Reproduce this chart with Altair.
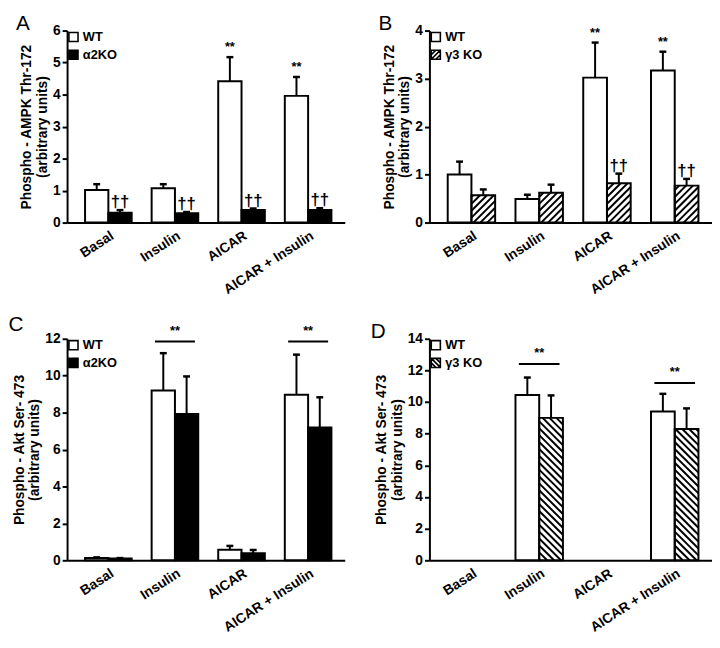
import altair as alt
import pandas as pd

CATEGORIES = ["Basal", "Insulin", "AICAR", "AICAR + Insulin"]

# Panel A  (AMPK Thr-172, WT vs alpha2KO)
A_WT = [1.02, 1.07, 4.42, 3.96]
A_WT_ERR = [0.18, 0.13, 0.75, 0.59]
A_KO = [0.31, 0.29, 0.39, 0.39]
A_KO_ERR = [0.08, 0.04, 0.05, 0.06]
A_STARS = [2, 3]
A_DAGGERS = [0, 1, 2, 3]

# Panel B  (AMPK Thr-172, WT vs gamma3 KO)
B_WT = [1.00, 0.49, 3.02, 3.17]
B_WT_ERR = [0.27, 0.09, 0.73, 0.39]
B_KO = [0.57, 0.62, 0.82, 0.77]
B_KO_ERR = [0.12, 0.17, 0.20, 0.14]
B_STARS = [2, 3]
B_DAGGERS = [2, 3]

# Panel C  (Akt Ser-473, WT vs alpha2KO)
C_WT = [0.12, 9.20, 0.57, 8.97]
C_WT_ERR = [0.04, 2.02, 0.21, 2.17]
C_KO = [0.10, 7.92, 0.38, 7.20]
C_KO_ERR = [0.02, 2.04, 0.18, 1.63]
C_SIG_CATS = [1, 3]
C_SIG_LEVELS = [11.85, 11.85]

# Panel D  (Akt Ser-473, WT vs gamma3 KO)
D_WT = [0.0, 10.45, 0.0, 9.40]
D_WT_ERR = [0.0, 1.10, 0.0, 1.12]
D_KO = [0.0, 9.00, 0.0, 8.30]
D_KO_ERR = [0.0, 1.42, 0.0, 1.30]
D_SIG_CATS = [1, 3]
D_SIG_LEVELS = [12.4, 11.2]

FONT = "Liberation Sans"
XDOM = [-0.62, 3.55]
BW = 0.35          # bar width in category units
PITCH = 7.0        # hatch pitch in px
CAP_PX = 3.5       # half width of error caps in px

label_expr = "[" + ",".join("'" + c + "'" for c in CATEGORIES) + "][datum.value]"


def panel(letter, ytitle, ymax, ystep, wt, wt_err, ko, ko_err, ko_label, ko_style,
          width, height, stars=(), daggers=(), sig_cats=(), sig_levels=()):
    n = len(CATEGORIES)
    kx = width / (XDOM[1] - XDOM[0])
    ky = height / ymax
    df = pd.DataFrame({
        "i": list(range(n)) * 2,
        "grp": ["WT"] * n + [ko_label] * n,
        "ko": [0] * n + [1] * n,
        "value": wt + ko,
        "err": wt_err + ko_err,
    })

    xscale = alt.Scale(domain=XDOM, nice=False, zero=False)
    yscale = alt.Scale(domain=[0, ymax], nice=False, zero=False)
    xaxis = alt.Axis(values=list(range(n)), labelExpr=label_expr, labelAngle=-33,
                     ticks=False, grid=False, labelFlush=False, labelOverlap=False,
                     labelBound=False, labelPadding=6, title=None)
    yaxis = alt.Axis(values=list(range(0, ymax + 1, ystep)), grid=False, tickSize=5,
                     title=ytitle, titlePadding=3, labelPadding=2)

    def X(f):
        return alt.X(f, type="quantitative", scale=xscale, axis=xaxis, title=None)

    def X2(f):
        return alt.X2(f)

    def Y(f):
        return alt.Y(f, type="quantitative", scale=yscale, axis=yaxis)

    base = alt.Chart(df).transform_calculate(
        x0=f"datum.i - {BW} + datum.ko * {BW}",
        x1=f"datum.i + datum.ko * {BW}",
        xc=f"datum.i - {BW / 2} + datum.ko * {BW}",
        top="datum.value + datum.err",
        zero="0",
        capl=f"datum.i - {BW / 2} + datum.ko * {BW} - {CAP_PX / kx}",
        capr=f"datum.i - {BW / 2} + datum.ko * {BW} + {CAP_PX / kx}",
    )

    ko_fill = "black" if ko_style == "solid" else "white"
    bars_fill = base.transform_filter("datum.value > 0").mark_rect(strokeWidth=0).encode(
        x=X("x0"), x2=X2("x1"), y=Y("value"), y2=alt.Y2("zero"),
        fill=alt.condition("datum.ko == 1", alt.value(ko_fill), alt.value("white")),
    )
    layers = [bars_fill]

    if ko_style in ("fwd", "back"):
        W = BW * kx
        if ko_style == "fwd":
            xa = f"datum.x0 + (datum.c + datum.t0) / {kx}"
            xb = f"datum.x0 + (datum.c + datum.t1) / {kx}"
        else:
            xa = f"datum.x1 - (datum.c + datum.t0) / {kx}"
            xb = f"datum.x1 - (datum.c + datum.t1) / {kx}"
        hatch = base.transform_filter("datum.ko == 1 && datum.value > 0").transform_calculate(
            H=f"datum.value * {ky}",
        ).transform_calculate(
            cs=f"sequence(-ceil(datum.H / {PITCH}) * {PITCH} + 2, {W}, {PITCH})",
        ).transform_flatten(["cs"], as_=["c"]).transform_calculate(
            t0="max(0, -datum.c)",
            t1=f"min(datum.H, {W} - datum.c)",
        ).transform_filter("datum.t1 - datum.t0 > 0.3").transform_calculate(
            hxa=xa, hxb=xb,
            hya=f"datum.t0 / {ky}", hyb=f"datum.t1 / {ky}",
        ).mark_rule(strokeWidth=2, color="black", strokeCap="butt").encode(
            x=X("hxa"), x2=X2("hxb"), y=Y("hya"), y2=alt.Y2("hyb"),
        )
        layers.append(hatch)

    err_line = base.transform_filter("datum.err > 0").mark_rule(strokeWidth=2, color="black").encode(
        x=X("xc"), y=Y("value"), y2=alt.Y2("top"),
    )
    err_cap = base.transform_filter("datum.err > 0").mark_rule(strokeWidth=2.5, color="black").encode(
        x=X("capl"), x2=X2("capr"), y=Y("top"),
    )
    outline = base.transform_filter("datum.value > 0").mark_rect(
        fillOpacity=0, stroke="black", strokeWidth=2).encode(
        x=X("x0"), x2=X2("x1"), y=Y("value"), y2=alt.Y2("zero"),
    )
    layers += [err_line, err_cap, outline]

    if stars:
        st = base.transform_filter(
            f"datum.ko == 0 && indexof({list(stars)}, datum.i) >= 0"
        ).mark_text(text="**", font=FONT, fontSize=13, fontWeight="bold", baseline="bottom",
                    dy=-3, color="black").encode(x=X("xc"), y=Y("top"))
        layers.append(st)
    if daggers:
        dg = base.transform_filter(
            f"datum.ko == 1 && indexof({list(daggers)}, datum.i) >= 0"
        ).mark_text(text="††", font=FONT, fontSize=17, fontWeight="bold", baseline="bottom",
                    dy=1, color="black").encode(x=X("xc"), y=Y("top"))
        layers.append(dg)
    if sig_cats:
        sdf = pd.DataFrame({"i": list(sig_cats), "level": list(sig_levels)})
        sbase = alt.Chart(sdf).transform_calculate(
            sl="datum.i - 0.3", sr="datum.i + 0.3")
        sline = sbase.mark_rule(strokeWidth=2, color="black").encode(
            x=X("sl"), x2=X2("sr"), y=Y("level"))
        stxt = sbase.mark_text(text="**", font=FONT, fontSize=13, fontWeight="bold",
                               baseline="bottom", dy=-4, color="black").encode(
            x=X("i"), y=Y("level"))
        layers += [sline, stxt]

    # legend (built from scales, no marks drawn)
    if ko_style == "solid":
        ko_shape = "square"
    elif ko_style == "fwd":
        ko_shape = "M-1,-1L1,-1L1,1L-1,1Z M-1,0L0,-1 M-1,1L1,-1 M0,1L1,0"
    else:
        ko_shape = "M-1,-1L1,-1L1,1L-1,1Z M-1,0L0,1 M-1,-1L1,1 M0,-1L1,0"
    leg = alt.Legend(orient="top-left", title=None, offset=0, symbolSize=85,
                     symbolStrokeColor="black", symbolStrokeWidth=1.6, symbolOpacity=1,
                     labelFont=FONT, labelFontSize=13, labelFontWeight="bold",
                     labelColor="black", rowPadding=1, padding=0, labelOffset=3)
    ldf = pd.DataFrame({"grp": ["WT", ko_label]})
    dom = ["WT", ko_label]
    legend_layer = alt.Chart(ldf).transform_filter("false").mark_point(
        filled=True, opacity=1, strokeWidth=1.6).encode(
        fill=alt.Fill("grp:N", scale=alt.Scale(domain=dom, range=["white", ko_fill]), legend=leg),
        shape=alt.Shape("grp:N", scale=alt.Scale(domain=dom, range=["square", ko_shape]), legend=leg),
        stroke=alt.Stroke("grp:N", scale=alt.Scale(domain=dom, range=["black", "black"]), legend=leg),
    )
    layers.append(legend_layer)

    return alt.layer(*layers).properties(
        width=width, height=height,
        title=alt.TitleParams(letter, anchor="start", frame="bounds", font=FONT, fontSize=21,
                              fontWeight="normal", color="black", offset=-10, dx=-4),
    )


AMPK_TITLE = ["Phospho - AMPK Thr-172", "(arbitrary units)"]
AKT_TITLE = ["Phospho - Akt Ser- 473", "(arbitrary units)"]

pA = panel("A", AMPK_TITLE, 6, 1, A_WT, A_WT_ERR, A_KO, A_KO_ERR, "α2KO", "solid", 282, 195,
           stars=A_STARS, daggers=A_DAGGERS)
pB = panel("B", AMPK_TITLE, 4, 1, B_WT, B_WT_ERR, B_KO, B_KO_ERR, "γ3 KO", "fwd", 287, 195,
           stars=B_STARS, daggers=B_DAGGERS)
pC = panel("C", AKT_TITLE, 12, 2, C_WT, C_WT_ERR, C_KO, C_KO_ERR, "α2KO", "solid", 282, 225,
           sig_cats=C_SIG_CATS, sig_levels=C_SIG_LEVELS)
pD = panel("D", AKT_TITLE, 14, 2, D_WT, D_WT_ERR, D_KO, D_KO_ERR, "γ3 KO", "back", 287, 225,
           sig_cats=D_SIG_CATS, sig_levels=D_SIG_LEVELS)

chart = alt.concat(pA, pB, pC, pD, columns=2, spacing={"row": 16, "column": 26}).resolve_scale(
    fill="independent", shape="independent", stroke="independent", x="independent", y="independent"
).resolve_legend(fill="independent", shape="independent", stroke="independent").properties(
    padding=0, background="white"
).configure_view(stroke=None).configure_axis(
    labelFont=FONT, titleFont=FONT, labelFontSize=14, labelFontWeight="bold",
    titleFontSize=14, titleFontWeight="bold", labelColor="black", titleColor="black",
    domainColor="black", domainWidth=2, tickColor="black", tickWidth=2,
)

chart.save("out.html", embed_options={"renderer": "svg", "actions": False})
